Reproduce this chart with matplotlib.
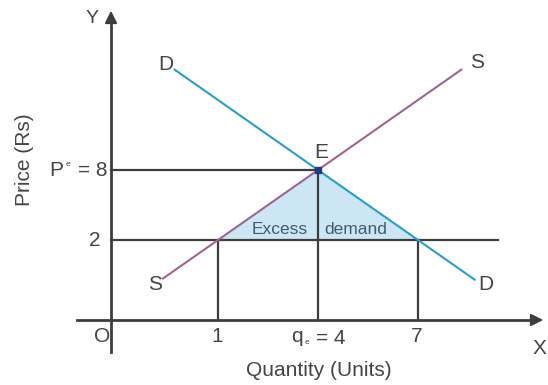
import numpy as np
import matplotlib
matplotlib.use("Agg")
from matplotlib import pyplot as plt

plt.rcParams['font.family'] = ['Liberation Sans', 'DejaVu Sans']

# datos del diagrama (cantidad, precio)
q_equilibrio = 4
p_equilibrio = 8
p_bajo = 2
q_oferta_bajo = 1
q_demanda_bajo = 7
q_demanda = [-0.3, 8.7]
q_oferta = [-0.65, 8.3]

def demanda(q):
    return p_equilibrio - 2 * (np.asarray(q) - q_equilibrio)

def oferta(q):
    return p_bajo + 2 * (np.asarray(q) - q_oferta_bajo)

# conversion pixel -> datos (solo para ubicar textos y ejes)
def px(x, y):
    return (1 + (x - 218) / 33.333, 2 - (y - 240) / 11.667)

fig = plt.figure(figsize=(5.48, 3.85), dpi=100)
ax = fig.add_axes([0, 0, 1, 1])
x0, y0 = px(0, 385)
x1, y1 = px(548, 0)
ax.set_xlim(x0, x1)
ax.set_ylim(y0, y1)
ax.axis('off')

gris = '#3d3d3d'
texto = '#444444'

# ejes
ox, oy = px(111, 320)
_, ytop = px(0, 8)
xr, _ = px(546, 0)
xl, _ = px(77, 0)
_, yb = px(0, 352)
ax.plot([ox, ox], [yb, ytop - 1.2], color=gris, lw=2)
ax.plot([xl, xr - 0.4], [oy, oy], color=gris, lw=2)
ax.annotate('', xy=(ox, ytop), xytext=(ox, ytop - 1.5),
            arrowprops=dict(arrowstyle='-|>', color=gris, lw=1.5, mutation_scale=18))
ax.annotate('', xy=(xr, oy), xytext=(xr - 0.5, oy),
            arrowprops=dict(arrowstyle='-|>', color=gris, lw=1.5, mutation_scale=18))

# area de exceso de demanda
ax.fill([q_oferta_bajo, q_equilibrio, q_demanda_bajo],
        [p_bajo, p_equilibrio, p_bajo], color='#cde6f5', zorder=1)

# lineas guia
xend, _ = px(498, 0)
ax.plot([ox, q_equilibrio], [p_equilibrio, p_equilibrio], color=gris, lw=1.6, zorder=2)
ax.plot([ox, xend], [p_bajo, p_bajo], color=gris, lw=1.6, zorder=2)
for q, p in [(q_oferta_bajo, p_bajo), (q_equilibrio, p_equilibrio), (q_demanda_bajo, p_bajo)]:
    ax.plot([q, q], [oy, p], color=gris, lw=1.6, zorder=2)

# curvas
ax.plot(q_demanda, demanda(q_demanda), color='#2a9fc6', lw=1.5, zorder=3)
ax.plot(q_oferta, oferta(q_oferta), color='#a2648f', lw=1.5, zorder=3)
ax.plot(q_equilibrio, p_equilibrio, 's', color='#1f3a8a', ms=5, zorder=4)

# textos
fs = 15
def t(x, y, s, **kw):
    kw.setdefault('fontsize', fs)
    kw.setdefault('color', texto)
    kw.setdefault('ha', 'center')
    ax.text(*px(x, y), s, va='center', **kw)

t(92, 18, 'Y', fontsize=14)
t(539, 349, 'X')
t(102, 336, 'O')
t(217, 337, '1')
t(417, 336, '7')
t(100, 240, '2', ha='right')
# P^e = 8
t(49, 170, 'P', ha='left')
t(68, 164, 'e', fontsize=6)
t(107, 170, '= 8', ha='right')
# q_e = 4
t(291, 337, 'q', ha='left')
t(307, 343, 'e', fontsize=6)
t(346, 338, '= 4', ha='right')
t(25, 160, 'Price (Rs)', rotation=90)
t(319, 370, 'Quantity (Units)')
t(321, 152, 'E')
t(166, 64, 'D')
t(486, 285, 'D')
t(477, 63, 'S')
t(155, 284, 'S')
t(280, 230, 'Excess', fontsize=12.5, color='#3f5a72')
t(356, 230, 'demand', fontsize=12.5, color='#3f5a72')

fig.savefig('out.png', dpi=100)
